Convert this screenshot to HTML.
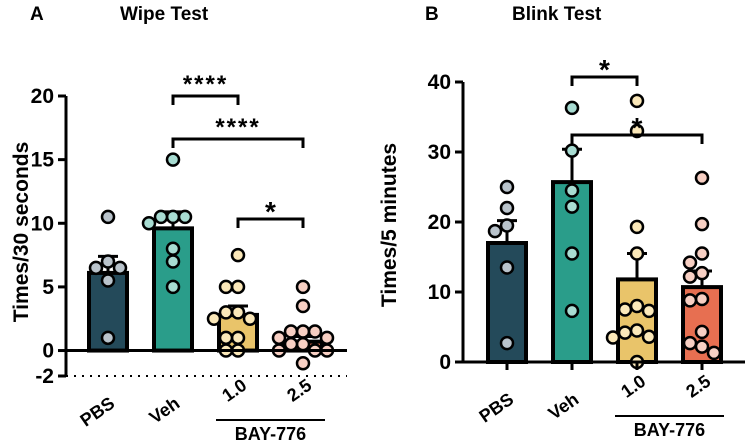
<!DOCTYPE html>
<html><head><meta charset="utf-8"><style>
html,body{margin:0;padding:0;background:#fff;}
svg text{font-family:"Liberation Sans",sans-serif;font-weight:bold;fill:#000;}
</style></head><body>
<svg id="fig" width="750" height="443" viewBox="0 0 750 443" xmlns="http://www.w3.org/2000/svg">
<text x="30" y="20" font-size="19">A</text>
<text x="120" y="20" font-size="19">Wipe Test</text>
<text x="425" y="20" font-size="19">B</text>
<text x="512" y="20" font-size="19">Blink  Test</text>
<text transform="translate(28,232) rotate(-90)" text-anchor="middle" font-size="21">Times/30 seconds</text>
<text transform="translate(396,225) rotate(-90)" text-anchor="middle" font-size="21">Times/5 minutes</text>
</svg>
<script>
const categories=["PBS","Veh","1.0","2.5"];
const wipeMeans=[6.1,9.6,2.8,0.7];
const wipeErr=[7.4,10.9,3.5,1.1];
const wipePoints=[[10.5,7,6.5,6.5,5.5,1],[15,10.5,10.5,10.5,10,8,7,5],[7.5,5,5,3,3,2.5,2.5,1,1,0,0],[5,3.5,1.5,1.5,1.5,1,1,0.5,0.5,0,0,0,-1]];
const wipeTicks=[20,15,10,5,0,-2];
const blinkMeans=[17,25.7,11.8,10.7];
const blinkErr=[20.2,30.4,15.5,13];
const blinkPoints=[[25,22,19.5,18.7,13.5,2.7],[36.3,30.2,24.5,22.2,15.5,7.3],[37.3,33,19.3,15.5,8,7.5,7.3,4.5,4.2,3.6,3.5,0],[26.3,19.7,15.5,14.2,12.7,12.2,9,8.8,4.3,2.7,2.2,1.3]];
const blinkTicks=[40,30,20,10,0];
const barColors=["#244a5a","#2a9d8a","#e9c46a","#e76f51"];
const dotColors=["#b9c3cb","#a8dcd2","#fbe8b9","#f7cfc3"];
const NS="http://www.w3.org/2000/svg";
const svg=document.getElementById('fig');
function el(t,a,p){const e=document.createElementNS(NS,t);for(const k in a)e.setAttribute(k,a[k]);(p||svg).appendChild(e);return e;}
function panel(o){
  const y=v=>o.y0+(v-o.vmin)*(o.y1-o.y0)/(o.vmax-o.vmin);
  const x=i=>o.x0+i*o.step;
  const g=el('g',{});
  
  
  const ax=el('line',{x1:o.ax,x2:o.ax,y1:y(o.vmax),y2:y(o.vmin),stroke:'#000','stroke-width':3},g);
  
  o.ticks.forEach(t=>{
    el('line',{x1:o.ax-8,x2:o.ax,y1:y(t),y2:y(t),stroke:'#000','stroke-width':3},g);
    const tl=el('text',{x:o.ax-12,y:y(t)+7,'text-anchor':'end','font-size':21},g);tl.textContent=t;
    
  });
  if(o.dotted){const d=el('line',{x1:o.ax,x2:o.xend,y1:y(o.vmin),y2:y(o.vmin),stroke:'#000','stroke-width':2,'stroke-dasharray':'2,6'},g);
    }
  categories.forEach((c,i)=>{
    const b=el('rect',{x:x(i)-19,y:y(o.means[i]),width:38,height:y(0)-y(o.means[i]),fill:barColors[i],stroke:'#000','stroke-width':4},g);
    
    el('line',{x1:x(i),x2:x(i),y1:y(o.means[i]),y2:y(o.err[i]),stroke:'#000','stroke-width':3},g);
    el('line',{x1:x(i)-10,x2:x(i)+10,y1:y(o.err[i]),y2:y(o.err[i]),stroke:'#000','stroke-width':3},g);
    const placed=[];
    o.pts[i].forEach(v=>{
      const cy=y(v);const cands=[0,-12,12,-24,24,-6,6,-18,18];
      let dx=0;
      for(const c2 of cands){if(placed.every(p=>Math.hypot(p[0]-c2,p[1]-cy)>=12)){dx=c2;break;}}
      placed.push([dx,cy]);
      const p=el('circle',{cx:x(i)+dx,cy:cy,r:6,fill:dotColors[i],stroke:'#000','stroke-width':2.5},g);
      
    });
    const lab=el('text',{transform:`translate(${x(i)+(i<2?8:10)},${o.labY+(i<2?12:-6)}) rotate(-35)`,'text-anchor':'end','font-size':18},g);
    lab.textContent=c;
  });
  const z=el('line',{x1:o.ax,x2:o.xend,y1:y(0),y2:y(0),stroke:'#000','stroke-width':3},g);
  
  categories.forEach((c,i)=>el('line',{x1:x(i),x2:x(i),y1:y(0),y2:y(0)+(o.dotted?0:8),stroke:'#000','stroke-width':3},g));
  o.brackets.forEach(br=>{
    const a=x(br[0]),b=x(br[1]);
    const p=el('path',{d:`M${a},${br[2]+9}V${br[2]}H${b}V${br[2]+9}`,fill:'none',stroke:'#000','stroke-width':3},g);
    
    const t=el('text',{x:(a+b)/2,y:br[2]-4+(br[3].length>1?0:6),'text-anchor':'middle','font-size':br[3].length>1?24:28,'letter-spacing':br[3].length>1?2:0},g);
    t.textContent=br[3];
  });
  const bl=el('line',{x1:x(2)-22,x2:x(3)+22,y1:o.labY+26,y2:o.labY+26,stroke:'#000','stroke-width':2},g);
  
  const bt=el('text',{x:(x(2)+x(3))/2,y:o.labY+46,'text-anchor':'middle','font-size':18},g);
  bt.textContent='BAY-776';
}
panel({name:'wipe-test-chart',ax:66,x0:108,step:65,xend:347,vmin:-2,vmax:20,y0:376,y1:96,ticks:wipeTicks,means:wipeMeans,err:wipeErr,pts:wipePoints,dotted:true,labY:394,
  brackets:[[1,2,96,'****'],[1,3,139,'****'],[2,3,219,'*']]});
panel({name:'blink-test-chart',ax:463,x0:507,step:65,xend:745,vmin:0,vmax:40,y0:362,y1:82,ticks:blinkTicks,means:blinkMeans,err:blinkErr,pts:blinkPoints,dotted:false,labY:390,
  brackets:[[1,2,77,'*'],[1,3,135,'*']]});
</script>
</body></html>
